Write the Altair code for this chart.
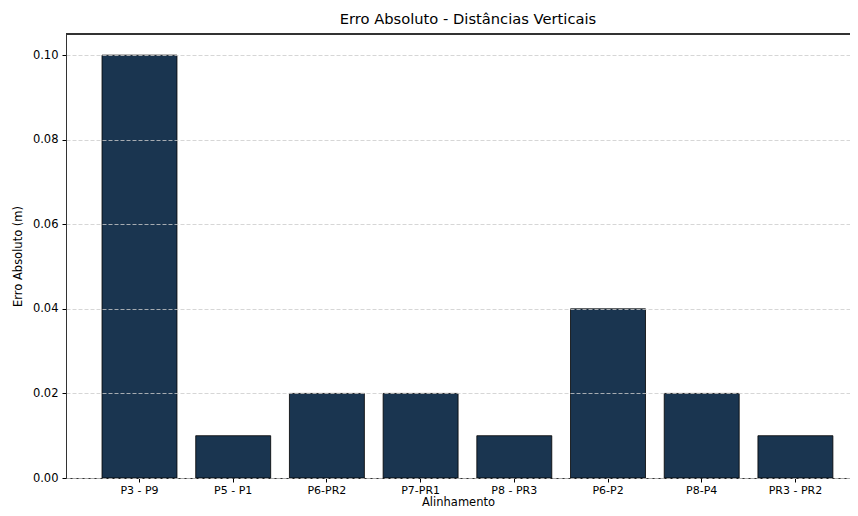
import altair as alt
import pandas as pd

categories = ["P3 - P9", "P5 - P1", "P6-PR2", "P7-PR1", "P8 - PR3", "P6-P2", "P8-P4", "PR3 - PR2"]
values = [0.10, 0.01, 0.02, 0.02, 0.01, 0.04, 0.02, 0.01]

df = pd.DataFrame({"Alinhamento": categories, "Erro": values})

font = "DejaVu Sans"
W, H = 784, 444

bars = alt.Chart(df).mark_bar(
    color="#1a3550", stroke="#000000", strokeWidth=0.8
).encode(
    x=alt.X(
        "Alinhamento:N",
        sort=None,
        scale=alt.Scale(paddingInner=0.2, paddingOuter=0.2835, align=0.678),
        axis=alt.Axis(
            title="Alinhamento", labelAngle=0, labelFont=font, labelFontSize=11,
            labelColor="#000000", titleFont=font, titleFontSize=11.5, titleFontWeight="normal",
            titleColor="#000000", tickColor="#000000", tickSize=4, labelPadding=2,
            domainColor="#333333", titleY=27, titleBaseline="alphabetic", grid=False,
        ),
    ),
    y=alt.Y(
        "Erro:Q",
        scale=alt.Scale(domain=[0, 0.105], nice=False),
        axis=alt.Axis(
            title="Erro Absoluto (m)", values=[0, 0.02, 0.04, 0.06, 0.08, 0.10], format=".2f",
            labelFont=font, labelFontSize=11.5, labelColor="#000000", titleFont=font,
            titleFontSize=11.5, titleFontWeight="normal", titleColor="#000000",
            tickColor="#000000", tickSize=4, labelPadding=4, domainColor="#333333",
            titlePadding=9, grid=True, gridColor="#cccccc", gridDash=[4, 2],
            gridWidth=0.8, zindex=1,
        ),
    ),
)

top_spine = alt.Chart(df).mark_rule(color="#333333", strokeWidth=1).encode(
    x=alt.value(0), x2=alt.value(W), y=alt.value(0)
)

chart = alt.layer(bars, top_spine).properties(
    width=W,
    height=H,
    padding={"left": 58, "top": 26, "right": 0, "bottom": 30},
    autosize=alt.AutoSizeParams(type="none"),
    title=alt.TitleParams(
        "Erro Absoluto - Distâncias Verticais", font=font, fontSize=14.7,
        fontWeight="normal", color="#000000", anchor="middle", offset=7, dx=10,
    ),
).configure_view(
    stroke=None
)

chart.save("out.html", embed_options={"renderer": "svg", "actions": False})
